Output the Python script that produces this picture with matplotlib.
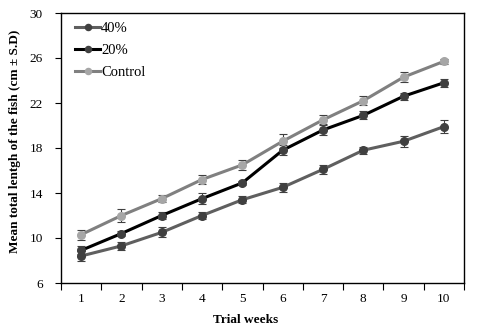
import numpy as np
import matplotlib
matplotlib.use("Agg")
import matplotlib.pyplot as plt

plt.rcParams['font.family'] = ['Liberation Serif', 'DejaVu Serif']

weeks = [1, 2, 3, 4, 5, 6, 7, 8, 9, 10]
week_labels = [str(w) for w in weeks]

# mean total length (cm) and S.D per treatment
len_40 = [8.4, 9.3, 10.5, 12.0, 13.4, 14.5, 16.1, 17.8, 18.6, 19.9]
sd_40 = [0.45, 0.35, 0.45, 0.3, 0.3, 0.4, 0.4, 0.3, 0.5, 0.55]
len_20 = [8.9, 10.4, 12.0, 13.5, 14.9, 17.8, 19.6, 20.9, 22.6, 23.8]
sd_20 = [0.35, 0.25, 0.35, 0.5, 0.2, 0.45, 0.45, 0.35, 0.3, 0.35]
len_ctrl = [10.3, 12.0, 13.5, 15.2, 16.5, 18.6, 20.5, 22.2, 24.3, 25.7]
sd_ctrl = [0.45, 0.6, 0.3, 0.4, 0.45, 0.6, 0.4, 0.4, 0.45, 0.25]

series = [
    ("40%", len_40, sd_40, "#5f5f5f", "#404040"),
    ("20%", len_20, sd_20, "#000000", "#404040"),
    ("Control", len_ctrl, sd_ctrl, "#808080", "#a6a6a6"),
]

fig = plt.figure(figsize=(4.84, 3.33), dpi=100)
ax = fig.add_axes([61/484, 1-283/333, 403/484, 270/333])

x = np.arange(1, len(weeks)+1)
for name, vals, sd, lc, mc in series:
    ax.errorbar(x, vals, yerr=sd, fmt='none', ecolor='#404040', elinewidth=0.8,
                capsize=3, capthick=0.8)
    ax.plot(x, vals, color=lc, lw=2.2, marker='o', ms=5.5,
            mfc=mc, mec=mc, label=name)

ax.set_xlim(0.5, 10.5)
ax.set_ylim(6, 30)
ax.set_yticks(np.arange(6, 31, 4))
ax.set_xticks(x)
ax.set_xticklabels(week_labels)
ax.set_xticks(np.arange(0.5, 10.6, 1), minor=True)
ax.tick_params(axis='x', which='major', length=0, pad=7, labelsize=9.5)
ax.tick_params(axis='x', which='minor', length=5, width=0.8, direction='out')
ax.tick_params(axis='y', length=4, width=0.8, direction='out', labelsize=9.5, pad=9)
for s in ax.spines.values():
    s.set_linewidth(1.0)

fig.text(246/484, 1-320/333, "Trial weeks", fontweight='bold', fontsize=9.5,
         ha='center', va='center')
fig.text(15/484, 1-141/333, "Mean total lentgh of the fish (cm \u00b1 S.D)",
         fontweight='bold', fontsize=9.5, rotation=90, ha='center', va='center')

ax.legend(loc='upper left', frameon=False, fontsize=10.5, handlelength=1.75,
          handletextpad=0.05, labelspacing=0.6, borderaxespad=0.0, markerscale=0.8,
          bbox_to_anchor=(0.02, 0.99))

fig.savefig("out.png", dpi=100)
